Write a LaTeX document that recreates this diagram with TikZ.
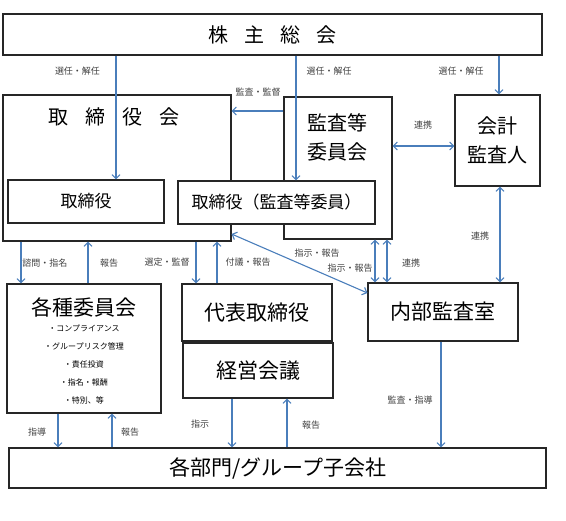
\documentclass[tikz,border=0pt]{standalone}
\usepackage{fontspec}
\setmainfont{Noto Sans CJK JP}
\usepackage{tikz}
\usetikzlibrary{calc,arrows.meta,positioning}
\definecolor{arrblue}{RGB}{74,126,187}
\tikzset{
  box/.style={draw=black!85, line width=1.1pt, fill=white, inner sep=0pt, 
  text centered},
  big/.style={font=\fontsize{20}{29}\selectfont, align=center, inner sep=0pt},
  arr/.style={draw=arrblue, line width=1.1pt, 
  -{Straight Barb[length=4pt,width=8pt]}},
  darr/.style={draw=arrblue, line width=1.1pt, 
  {Straight Barb[length=4pt,width=8pt]}-{Straight Barb[length=4pt,width=8pt]}},
  lbl/.style={font=\fontsize{9}{10}\selectfont, text=black!75, inner sep=1pt}
}
\begin{document}
\begin{tikzpicture}[x=1pt,y=-1pt]
\useasboundingbox (0,0) rectangle (566,521);
% top
\node[box, minimum width=539pt, minimum height=41pt, big] (sh) at (272.5,34.5)
	{株\hspace{16pt}主\hspace{16pt}総\hspace{16pt}会};
\node[box, minimum width=228pt, minimum height=146pt] (tb) at (117,168) {};
\node[big] (tbt) at (114,117) {取\hspace{17pt}締\hspace{17pt}役\hspace{17pt}会};
\node[box, minimum width=108pt, minimum height=142pt] (ac) at (338,168) {};
\node[big] (act) at (337,137.5) {監査等\\委員会};
\node[box, minimum width=85pt, minimum height=91pt, big] (ea) at (497.5,140.5)
	{会計\\監査人};
\node[box, minimum width=156pt, minimum height=43pt, 
	font=\fontsize{17}{20}\selectfont] (td) at (86,201.5) {取締役};
\node[box, minimum width=197pt, minimum height=43pt, 
	font=\fontsize{17}{20}\selectfont] (ta) at (276.5,202.5) {取締役（監査等委員）};
% arrows from the meeting
\draw[arr] (116,0 |- sh.south) -- (116,0 |- td.north);
\draw[arr] (296,0 |- sh.south) -- (296,0 |- ta.north);
\draw[arr] (499,0 |- sh.south) -- (499,0 |- ea.north);
\node[lbl] (l1) at (77.5,71) {選任・解任};
\node[lbl] (l2) at (329,71) {選任・解任};
\node[lbl] (l3) at (461,71) {選任・解任};
\draw[arr] (ac.west |- 0,111) -- (tb.east |- 0,111);
\node[lbl] (l4) at (258,92) {監査・監督};
\draw[darr] (ac.east |- 0,146) -- (ea.west |- 0,146);
\node[lbl] (l5) at (423,125) {連携};
% middle
\node[box, minimum width=154pt, minimum height=129pt] (ic) at (84,348.5) {};
\node[inner sep=0pt, font=\fontsize{21}{24}\selectfont] (ict) at (84,307) {各種委員会};
\node[inner sep=0pt, font=\fontsize{8}{17.8}\selectfont, align=center] (icl) at (84,364.5)
	{・コンプライアンス\\・グループリスク管理\\・責任投資\\・指名・報酬\\・特別、等};
\node[box, minimum width=150pt, minimum height=57pt, 
	font=\fontsize{21}{24}\selectfont] (rd) at (257,312.5) {代表取締役};
\node[box, minimum width=150pt, minimum height=55pt, 
	font=\fontsize{21}{24}\selectfont] (mm) at (258,370.5) {経営会議};
\node[box, minimum width=150pt, minimum height=58pt, 
	font=\fontsize{21}{24}\selectfont] (ia) at (443,312) {内部監査室};
\draw[arr] (21,0 |- tb.south) -- (21,0 |- ic.north);
\draw[arr] (88,0 |- ic.north) -- (88,0 |- tb.south);
\draw[arr] (196,0 |- tb.south) -- (196,0 |- rd.north);
\draw[arr] (217,0 |- rd.north) -- (217,0 |- tb.south);
\draw[darr] (tb.east |- 0,234) -- (ia.west |- 0,293);
\draw[darr] (375,0 |- ac.south) -- (375,0 |- ia.north);
\draw[darr] (387,0 |- ac.south) -- (387,0 |- ia.north);
\draw[darr] (500,0 |- ea.south) -- (500,0 |- ia.north);
\node[lbl] (l6) at (45,263) {諮問・指名};
\node[lbl] (l7) at (109,263) {報告};
\node[lbl] (l8) at (167,262) {選定・監督};
\node[lbl] (l9) at (248,262) {付議・報告};
\node[lbl] (l10) at (317,253) {指示・報告};
\node[lbl] (l11) at (350,268) {指示・報告};
\node[lbl] (l12) at (411,263) {連携};
\node[lbl] (l13) at (480,236) {連携};
% bottom
\node[box, minimum width=537pt, minimum height=40pt, 
	font=\fontsize{21}{24}\selectfont] (dp) at (277.5,468) {各部門/グループ子会社};
\draw[arr] (58,0 |- ic.south) -- (58,0 |- dp.north);
\draw[arr] (112,0 |- dp.north) -- (112,0 |- ic.south);
\draw[arr] (232,0 |- mm.south) -- (232,0 |- dp.north);
\draw[arr] (287,0 |- dp.north) -- (287,0 |- mm.south);
\draw[arr] (441,0 |- ia.south) -- (441,0 |- dp.north);
\node[lbl] (l14) at (37,432) {指導};
\node[lbl] (l15) at (130,432) {報告};
\node[lbl] (l16) at (200,424) {指示};
\node[lbl] (l17) at (311,425) {報告};
\node[lbl] (l18) at (410,400) {監査・指導};
\end{tikzpicture}
\end{document}
